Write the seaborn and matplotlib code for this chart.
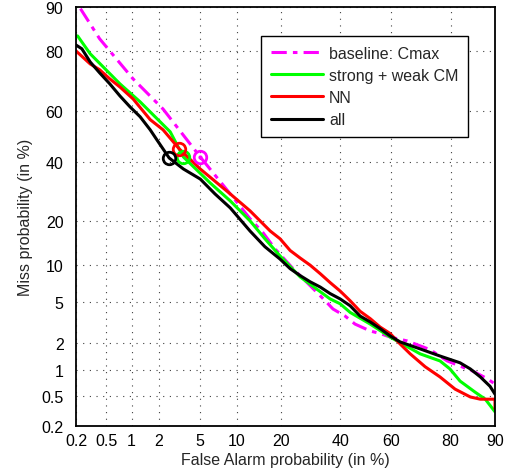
"""
DET curve (probit axes) for the detection systems
"""
import math
import numpy as np
import pandas as pd
import matplotlib
matplotlib.use("Agg")
import matplotlib.pyplot as plt
import seaborn as sns

# Curve values, in %: (false alarm, miss)
baseline_fa = [0.23, 0.41, 1.04, 2.2, 5.0, 8.9, 12.5, 15.4, 18.4, 23.5, 30.0, 34.3,
               37.2, 41.8, 45.7, 51.7, 55.6, 59.5, 65.9, 73.8, 79.0, 85.6, 88.6, 90.0]
baseline_miss = [89.7, 83.3, 71.5, 60.6, 41.8, 28.3, 20.6, 16.8, 13.1, 9.4, 6.5, 5.1,
                 4.3, 3.7, 3.1, 2.65, 2.5, 2.3, 2.1, 1.7, 1.28, 0.98, 0.8, 0.69]

strong_weak_fa = [0.21, 0.31, 0.73, 1.25, 1.61, 2.6, 3.5, 6.1, 8.9, 12.5, 15.8, 19.7, 25.7,
                  36.1, 39.9, 43.8, 51.7, 59.5, 70.5, 76.9, 79.8, 82.5, 86.1, 88.2, 90.0]
strong_weak_miss = [84.0, 79.3, 69.8, 63.3, 59.5, 51.7, 41.8, 32.1, 26.0, 20.0, 15.4, 11.7, 8.1,
                    5.3, 4.8, 4.0, 3.1, 2.3, 1.53, 1.28, 1.04, 0.75, 0.55, 0.45, 0.31]

nn_fa = [0.2, 0.31, 0.41, 0.55, 0.73, 1.04, 1.61, 2.2, 3.2, 5.0, 8.9, 12.5, 17.1, 19.7,
         22.6, 25.7, 29.0, 32.5, 36.1, 39.9, 43.8, 47.7, 51.7, 55.6, 59.5, 63.3, 67.0,
         72.2, 76.9, 81.2, 85.0, 87.2, 90.0, 90.0]
nn_miss = [80.1, 76.3, 74.5, 71.5, 68.7, 64.4, 56.5, 52.5, 44.9, 37.2, 28.3, 22.9, 17.3, 15.4,
           12.8, 11.3, 10.0, 8.6, 7.3, 6.2, 5.1, 4.1, 3.5, 2.9, 2.5, 1.95, 1.53,
           1.1, 0.84, 0.6, 0.48, 0.45, 0.45, 0.34]

all_fa = [0.2, 0.24, 0.31, 0.41, 0.55, 0.73, 0.96, 1.25, 1.61, 1.9, 2.54, 3.5, 5.0, 6.7,
          8.9, 12.5, 15.8, 19.7, 22.6, 25.7, 29.0, 32.5, 36.1, 39.9, 43.8, 47.7, 51.7,
          55.6, 59.5, 63.3, 70.5, 76.9, 82.5, 85.0, 87.2, 89.1, 90.0]
all_miss = [81.7, 80.7, 76.9, 73.5, 69.8, 65.5, 61.4, 57.6, 52.5, 48.5, 41.4, 37.2, 33.5, 28.3,
            23.8, 17.3, 13.6, 11.1, 9.4, 8.3, 7.4, 6.7, 5.9, 5.3, 4.6, 3.7, 3.25,
            2.8, 2.36, 2.05, 1.73, 1.45, 1.22, 1.04, 0.84, 0.65, 0.52]

# operating points (circles)
op_fa = [5.0, 3.5, 3.2, 2.54]
op_miss = [41.8, 41.8, 44.9, 41.4]

systems = ["baseline: Cmax", "strong + weak CM", "NN", "all"]
colors = ["#ff00ff", "#00ff00", "#ff0000", "#000000"]
ticks = [0.2, 0.5, 1, 2, 5, 10, 20, 40, 60, 80, 90]
tick_labels = ["0.2", "0.5", "1", "2", "5", "10", "20", "40", "60", "80", "90"]

# Acklam's approximation of the inverse normal CDF
_a = [-3.969683028665376e+01, 2.209460984245205e+02, -2.759285104469687e+02,
      1.383577518672690e+02, -3.066479806614716e+01, 2.506628277459239e+00]
_b = [-5.447609879822406e+01, 1.615858368580409e+02, -1.556989798598866e+02,
      6.680131188771972e+01, -1.328068155288572e+01]
_c = [-7.784894002430293e-03, -3.223964580411365e-01, -2.400758277161838e+00,
      -2.549732539343734e+00, 4.374664141464968e+00, 2.938163982698783e+00]
_d = [7.784695709041462e-03, 3.224671290700398e-01, 2.445134137142996e+00,
      3.754408661907416e+00]


def norm_ppf(p):
    p = np.clip(np.asarray(p, dtype=float), 1e-10, 1 - 1e-10)
    plow = 0.02425
    q = p - 0.5
    r = q * q
    central = (((((_a[0] * r + _a[1]) * r + _a[2]) * r + _a[3]) * r + _a[4]) * r + _a[5]) * q / \
        (((((_b[0] * r + _b[1]) * r + _b[2]) * r + _b[3]) * r + _b[4]) * r + 1)
    ql = np.sqrt(-2 * np.log(np.minimum(p, 1 - p)))
    tail = (((((_c[0] * ql + _c[1]) * ql + _c[2]) * ql + _c[3]) * ql + _c[4]) * ql + _c[5]) / \
        ((((_d[0] * ql + _d[1]) * ql + _d[2]) * ql + _d[3]) * ql + 1)
    tail = np.where(p < 0.5, tail, -tail)
    return np.where((p < plow) | (p > 1 - plow), tail, central)


_erf = np.vectorize(math.erf, otypes=[float])


def fwd(x):
    return norm_ppf(np.asarray(x, dtype=float) / 100.0)


def inv(z):
    return 100.0 * 0.5 * (1 + _erf(np.asarray(z, dtype=float) / math.sqrt(2)))


sns.set_style("white")
plt.rcParams["font.family"] = ["Liberation Sans", "DejaVu Sans"]
FS = 11.5

fig = plt.figure(figsize=(5.05, 4.77), dpi=100)
ax = fig.add_axes([76 / 505, 1 - 427 / 477, 419 / 505, 419 / 477])
ax.set_xscale("function", functions=(fwd, inv))
ax.set_yscale("function", functions=(fwd, inv))

curves = [(baseline_fa, baseline_miss), (strong_weak_fa, strong_weak_miss),
          (nn_fa, nn_miss), (all_fa, all_miss)]
for (fa, miss), name, col in zip(curves, systems, colors):
    df = pd.DataFrame({"fa": fa, "miss": miss})
    ls = (0, (5, 2, 1.5, 2)) if name.startswith("baseline") else "-"
    sns.lineplot(data=df, x="fa", y="miss", ax=ax, color=col, lw=2.2, linestyle=ls,
                 sort=False, estimator=None, label=name)

for x, y, col in zip(op_fa, op_miss, colors):
    ax.plot([x], [y], marker="o", ms=9, mfc="none", mec=col, mew=2, zorder=5)
ax.plot([op_fa[0]], [op_miss[0]], marker=".", ms=4, color=colors[0], zorder=5)

ax.set_xlim(0.2, 90)
ax.set_ylim(0.2, 90)
ax.set_xticks(ticks)
ax.set_xticklabels(tick_labels)
ax.set_yticks(ticks)
ax.set_yticklabels(tick_labels)
ax.minorticks_off()
ax.tick_params(length=0, labelsize=FS, colors="black")
ax.tick_params(axis="x", pad=5)
ax.tick_params(axis="y", pad=9)
ax.grid(True, color="0.25", linestyle=(0, (1, 5)), lw=0.8)
for s in ax.spines.values():
    s.set_visible(True)
    s.set_color("black")
    s.set_linewidth(1.3)

ax.set_xlabel("False Alarm probability (in %)", fontsize=FS, labelpad=3)
ax.set_ylabel("Miss probability (in %)", fontsize=FS, labelpad=6)

leg = ax.legend(loc="upper right", bbox_to_anchor=(468 / 505, 1 - 37 / 477),
                bbox_transform=fig.transFigure, fontsize=FS, fancybox=False,
                framealpha=1, edgecolor="black", handlelength=3.3, handletextpad=0.35,
                borderpad=0.6, labelspacing=0.45, borderaxespad=0)
leg.get_frame().set_linewidth(1.0)

fig.savefig("out.png", dpi=100)
